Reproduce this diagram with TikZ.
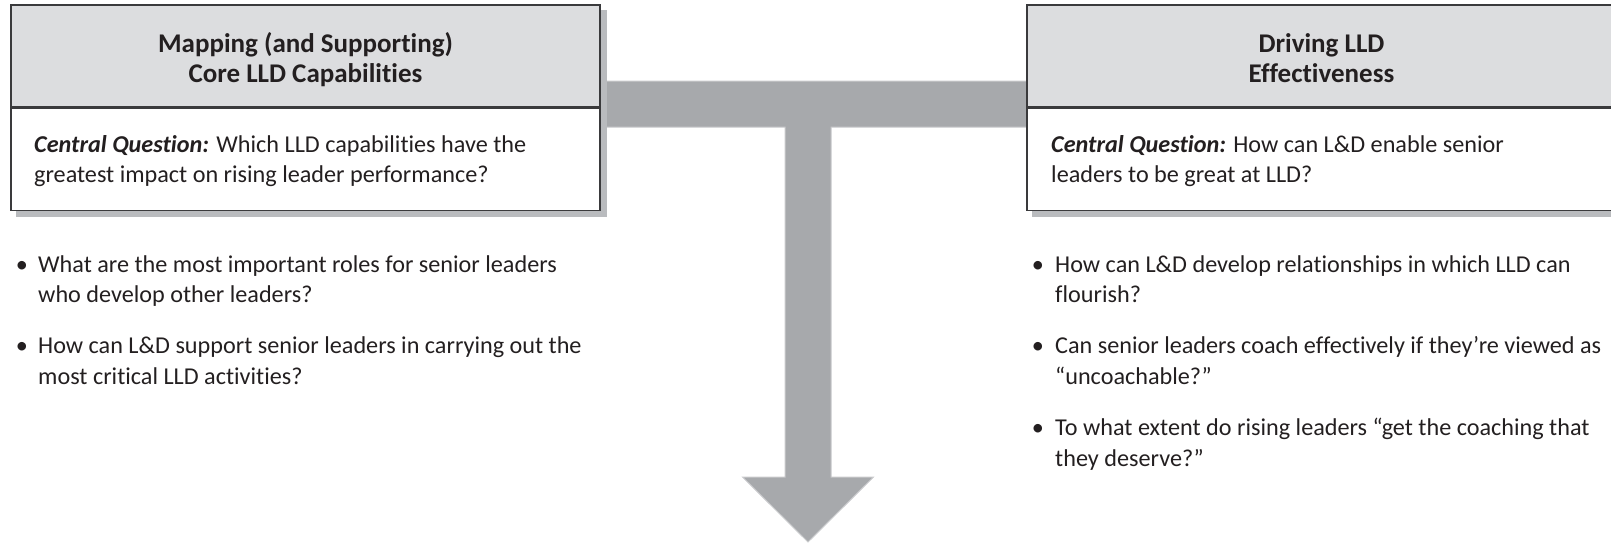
\documentclass[tikz,border=0pt]{standalone}
\usepackage{fontspec}
\setmainfont{Carlito}[Ligatures={NoCommon}]
\usetikzlibrary{calc}

\definecolor{ink}{HTML}{231F20}
\definecolor{frame}{HTML}{3A3A3C}
\definecolor{headfill}{HTML}{DCDDDF}
\definecolor{shade}{HTML}{B9BBBE}
\definecolor{arrowgray}{HTML}{A7A9AC}
\definecolor{arrowedge}{HTML}{C9CACC}

\tikzset{
  headbox/.style={draw=frame, fill=headfill, line width=1.3pt, inner sep=0pt,
    minimum width=589pt, minimum height=102pt},
  bodybox/.style={draw=frame, fill=white, line width=1.3pt, inner sep=0pt,
    minimum width=589pt, minimum height=102pt},
  shadowbox/.style={fill=shade},
  headtext/.style={anchor=base, inner sep=0pt, text=ink,
    font=\fontsize{27}{30}\selectfont\bfseries},
  bodytext/.style={anchor=base west, inner sep=0pt, text=ink,
    font=\fontsize{24.2}{31}\selectfont},
  dot/.style={anchor=base, inner sep=0pt, text=ink,
    font=\fontsize{24.2}{31}\selectfont},
  tarrow/.style={fill=arrowgray, draw=arrowedge, line width=1pt, line join=miter},
}
\newcommand{\cq}{\textbf{\textit{Central Question:}}}

\begin{document}
\begin{tikzpicture}[x=1pt, y=-1pt]
\useasboundingbox (0,0) rectangle (1611,542);
\clip (0,0) rectangle (1611,542);

% reference rows of the T-shaped arrow
\coordinate (barT) at (0,81);
\coordinate (barB) at (0,127);
\coordinate (stemL) at (785,0);
\coordinate (stemR) at (831,0);
\coordinate (headT) at (0,477);
\coordinate (tip) at (808,542);

% the two framed boxes (header + body)
\node[headbox] (lhead) at (305.5,56) {};
\node[bodybox, anchor=north] (lbody) at (lhead.south) {};
\node[headbox] (rhead) at (1321.5,56) {};
\node[bodybox, anchor=north] (rbody) at (rhead.south) {};

% T-shaped arrow joining the boxes and pointing down
\fill[tarrow]
  ($(lhead.east |- barT)+(-10,0)$) -- ($(rhead.west |- barT)+(10,0)$)
  -- ($(rhead.west |- barB)+(10,0)$) -- (stemR |- barB)
  -- (stemR |- headT) -- ($(tip)+(65.5,-65)$) -- (tip)
  -- ($(tip)+(-65.5,-65)$) -- (stemL |- headT) -- (stemL |- barB)
  -- ($(lhead.east |- barB)+(-10,0)$) -- cycle;

% drop shadows
\fill[shadowbox] ($(lhead.north west)+(6,6)$) rectangle ($(lbody.south east)+(6,6)$);
\fill[shadowbox] ($(rhead.north west)+(6,6)$) rectangle ($(rbody.south east)+(6,6)$);

% boxes redrawn above the shadows
\node[headbox] at (lhead) {};
\node[bodybox] at (lbody) {};
\node[headbox] at (rhead) {};
\node[bodybox] at (rbody) {};

% headings
\node[headtext] (lt1) at (305.5,52) {Mapping (and Supporting)};
\node[headtext] (lt2) at (305.5,82) {Core LLD Capabilities};
\node[headtext] (rt1) at (1321.5,52) {Driving LLD};
\node[headtext] (rt2) at (1321.5,82) {Effectiveness};

% central questions
\node[bodytext] (lq1) at (34,152) {\cq{} Which LLD capabilities have the};
\node[bodytext] (lq2) at (34,182) {greatest impact on rising leader performance?};
\node[bodytext] (rq1) at (1051,152) {\cq{} How can L\&D enable senior};
\node[bodytext] (rq2) at (1051,182) {leaders to be great at LLD?};

% left bullet list
\node[dot] (ld1) at (22,272) {•};
\node[bodytext] (la1) at (38,272) {What are the most important roles for senior leaders};
\node[bodytext] (la2) at (38,302) {who develop other leaders?};
\node[dot] (ld2) at (22,353) {•};
\node[bodytext] (lb1) at (38,353) {How can L\&D support senior leaders in carrying out the};
\node[bodytext] (lb2) at (38,384) {most critical LLD activities?};

% right bullet list
\node[dot] (rd1) at (1038,272) {•};
\node[bodytext] (ra1) at (1055,272) {How can L\&D develop relationships in which LLD can};
\node[bodytext] (ra2) at (1055,302) {flourish?};
\node[dot] (rd2) at (1038,353) {•};
\node[bodytext] (rb1) at (1055,353) {Can senior leaders coach effectively if they’re viewed as};
\node[bodytext] (rb2) at (1055,384) {“uncoachable?”};
\node[dot] (rd3) at (1038,435) {•};
\node[bodytext] (rc1) at (1055,435) {To what extent do rising leaders “get the coaching that};
\node[bodytext] (rc2) at (1055,466) {they deserve?”};
\end{tikzpicture}
\end{document}
